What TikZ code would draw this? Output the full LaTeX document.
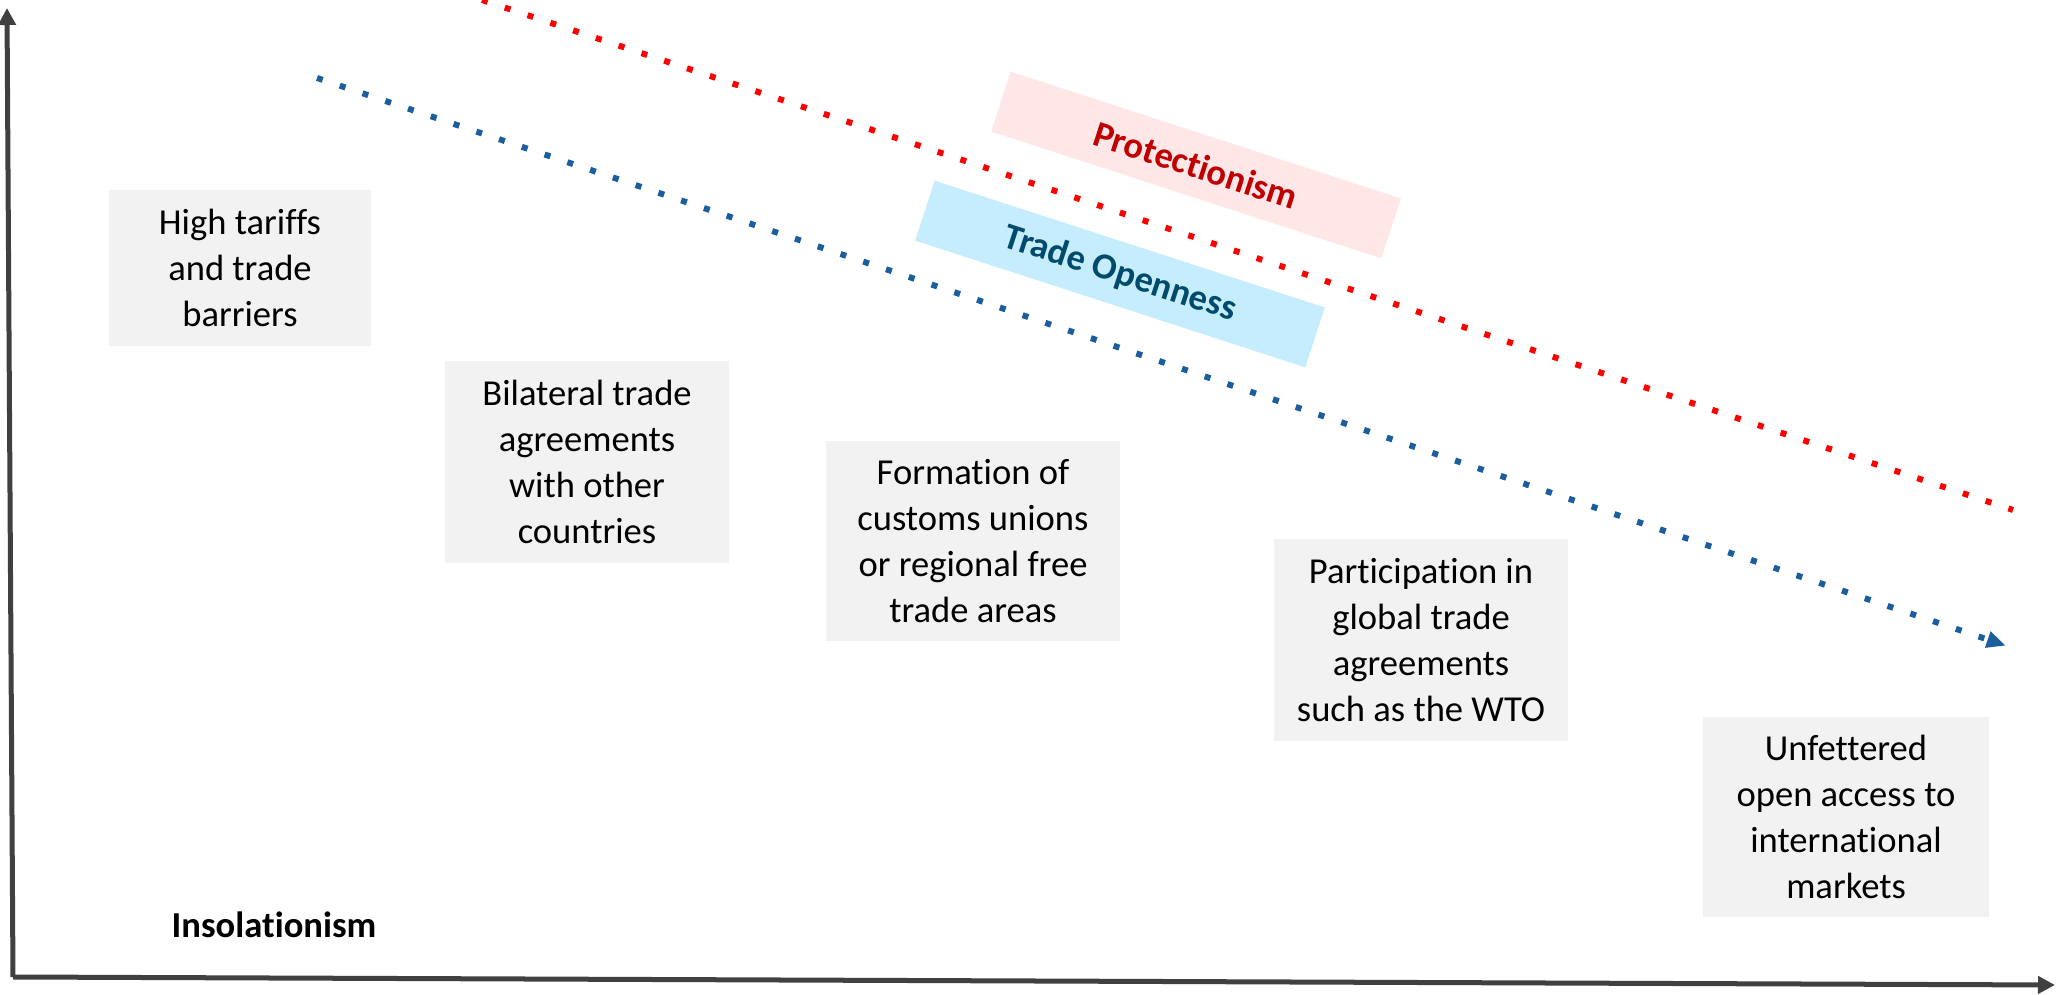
\documentclass[tikz,border=0pt]{standalone}
\usepackage{fontspec}
\setmainfont{Carlito}[Ligatures=NoCommon]
\usetikzlibrary{arrows.meta}

\begin{document}
\begin{tikzpicture}[x=0.01cm, y=-0.01cm,
    stage/.style={fill=stagegray, align=center, inner sep=0pt,
        font=\fontsize{10.4}{13.1}\selectfont},
    ribbon/.style={minimum width=4.1cm, minimum height=0.63cm, rotate=-18,
        inner sep=0pt, font=\bfseries\fontsize{10.4}{13.1}\selectfont},
    axis/.style={draw=axisgray, line width=0.05cm,
        -{Triangle[length=0.17cm, width=0.17cm]}},
    trend/.style={line width=0.06cm, dash pattern=on 0.06cm off 0.18cm}]
    % Define custom colors
    \definecolor{stagegray}{HTML}{F2F2F2}
    \definecolor{axisgray}{HTML}{404040}
    \definecolor{protred}{HTML}{FF0000}
    \definecolor{protdark}{HTML}{C00000}
    \definecolor{protfill}{HTML}{FFE6E7}
    \definecolor{openblue}{HTML}{1B5E9E}
    \definecolor{opendark}{HTML}{004A6B}
    \definecolor{openfill}{HTML}{C5EDFD}

    \useasboundingbox (0,0) rectangle (2063,995);

    % Axes
    \coordinate (origin) at (13,977);
    \coordinate (ytop) at (7,8);
    \coordinate (xend) at (2055,985);
    \draw[axis] (origin) -- (ytop);
    \draw[axis] (origin) -- (xend);

    % Labels on the tilted ribbons
    \node[ribbon, fill=protfill, text=protdark] (protlabel) at (1196,165) {Protectionism};
    \node[ribbon, fill=openfill, text=opendark] (openlabel) at (1120,274) {Trade Openness};

    % Dotted trend lines
    \coordinate (protstart) at (482,0);
    \coordinate (protend) at (2013,510);
    \draw[trend, protred] (protstart) -- (protend);
    \coordinate (openstart) at (317,78);
    \coordinate (openend) at (2001,644);
    \draw[trend, openblue, -{Triangle[length=0.19cm, width=0.16cm, sep=-0.05cm]}]
        (openstart) -- (openend);

    % Stages
    \node[stage, minimum width=2.61cm, minimum height=1.55cm] (tariffs) at (240,268)
        {High tariffs\\and trade\\barriers};
    \node[stage, minimum width=2.83cm, minimum height=2.01cm] (bilateral) at (587,462)
        {Bilateral trade\\agreements\\with other\\countries};
    \node[stage, minimum width=2.94cm, minimum height=2.00cm] (customs) at (973,541)
        {Formation of\\customs unions\\or regional free\\trade areas};
    \node[stage, minimum width=2.94cm, minimum height=2.02cm] (global) at (1421,640)
        {Participation in\\global trade\\agreements\\such as the WTO};
    \node[stage, minimum width=2.85cm, minimum height=2.00cm] (open) at (1846,817)
        {Unfettered\\open access to\\international\\markets};

    % Axis label
    \node[font=\bfseries\fontsize{10.4}{13.1}\selectfont] (isolation) at (274,925) {Insolationism};

\end{tikzpicture}
\end{document}
